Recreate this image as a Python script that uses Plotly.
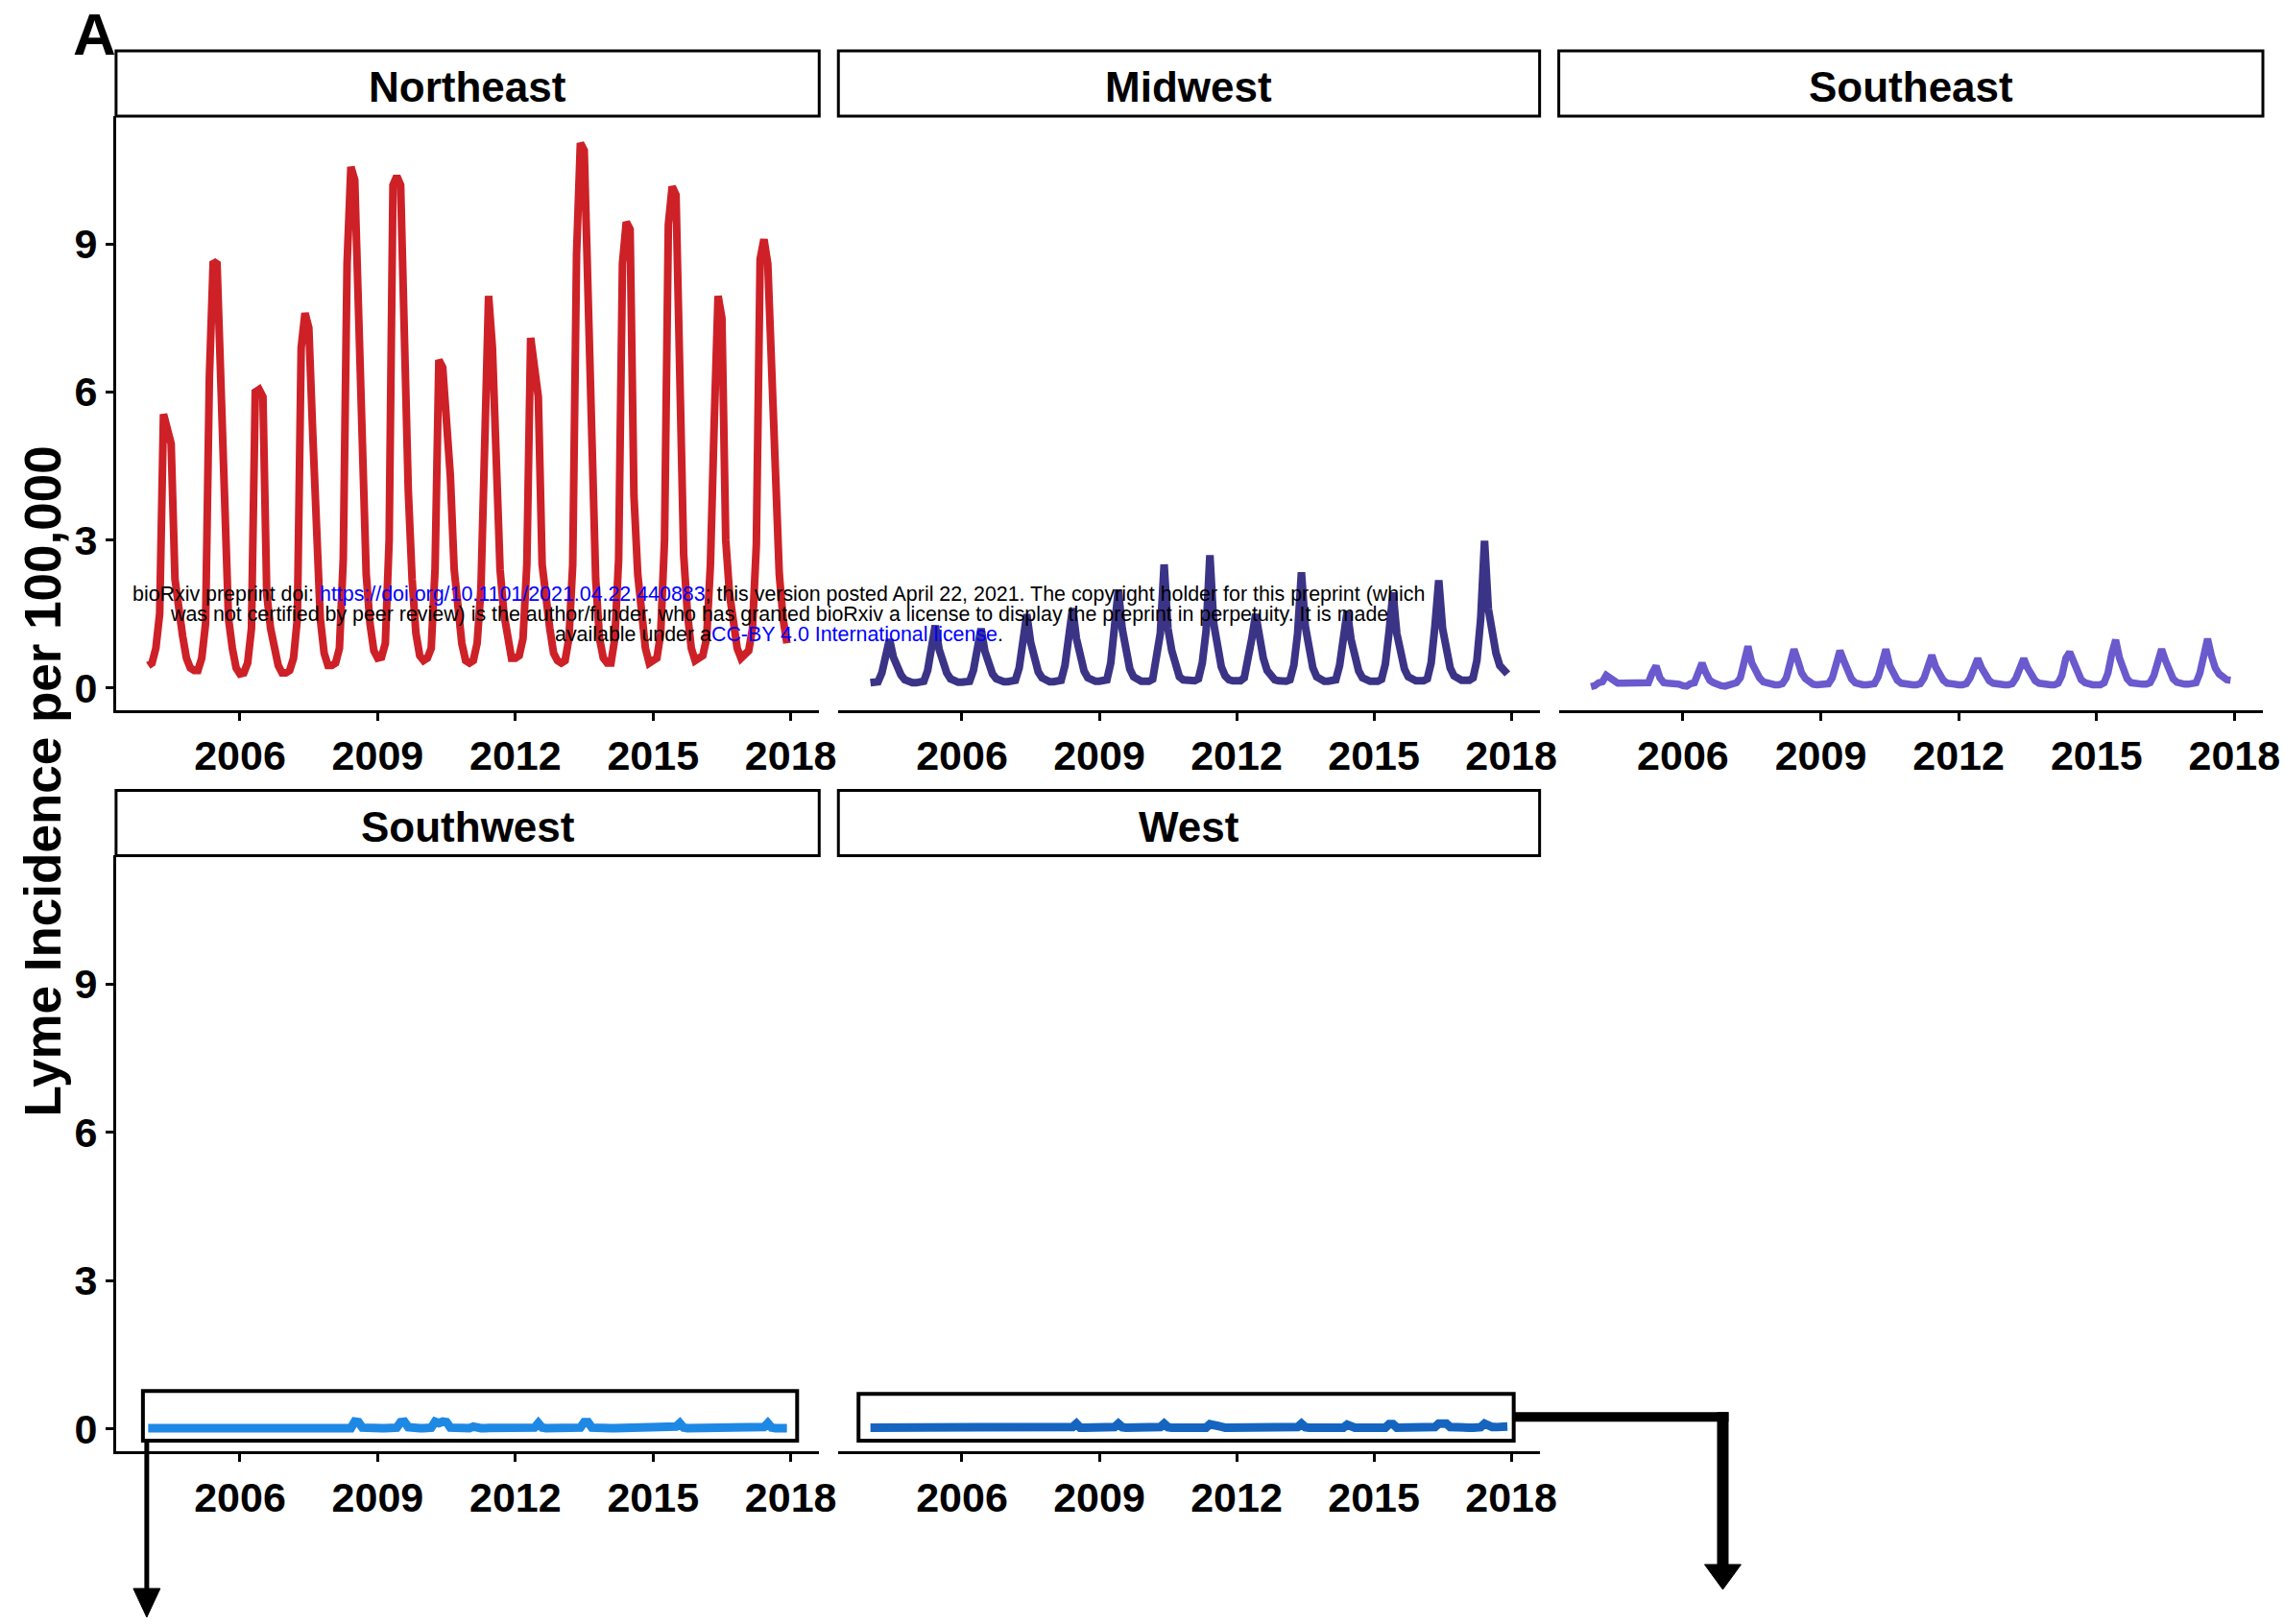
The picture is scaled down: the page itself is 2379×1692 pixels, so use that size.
import plotly.graph_objects as go

W, H = 2379, 1692

# ---------------- data (monthly incidence per 100,000, Jan 2004 - Dec 2017) ----------------
years = list(range(2004, 2018))
month_index = list(range(12))
time = [y + m / 12 for y in years for m in month_index]

tick_years = [2006, 2009, 2012, 2015, 2018]
y_ticks = [0, 3, 6, 9]

regions = ["Northeast", "Midwest", "Southeast", "Southwest", "West"]

northeast = [
    0.45, 0.50, 0.80, 1.50, 5.55, 5.30, 4.95, 2.20, 1.50, 1.05, 0.60, 0.40,
    0.35, 0.35, 0.60, 1.30, 6.30, 8.65, 8.60, 5.90, 3.10, 1.40, 0.80, 0.40,
    0.28, 0.30, 0.50, 1.20, 6.00, 6.05, 5.90, 1.90, 1.20, 0.80, 0.45, 0.30,
    0.30, 0.35, 0.60, 1.40, 6.90, 7.60, 7.30, 5.20, 2.70, 1.40, 0.70, 0.45,
    0.45, 0.50, 0.80, 2.60, 8.60, 10.57, 10.30, 7.30, 4.00, 2.30, 1.30, 0.75,
    0.60, 0.62, 0.90, 3.00, 10.20, 10.38, 10.20, 6.50, 4.00, 2.20, 1.10, 0.65,
    0.55, 0.60, 0.80, 2.40, 6.65, 6.50, 5.50, 4.30, 2.40, 1.50, 0.90, 0.55,
    0.50, 0.55, 0.90, 2.00, 5.00, 7.95, 6.90, 4.70, 2.40, 1.50, 0.90, 0.60,
    0.60, 0.65, 1.00, 2.50, 7.10, 6.50, 5.90, 2.50, 1.70, 1.20, 0.70, 0.55,
    0.50, 0.55, 1.00, 2.50, 8.80, 11.05, 10.90, 7.60, 4.20, 2.20, 1.00, 0.60,
    0.50, 0.50, 1.00, 2.60, 8.60, 9.45, 9.30, 3.90, 2.30, 1.30, 0.80, 0.50,
    0.55, 0.60, 1.10, 3.00, 9.40, 10.17, 10.00, 5.50, 2.70, 1.50, 0.80, 0.55,
    0.60, 0.65, 1.00, 2.50, 5.40, 7.95, 7.50, 3.00, 1.90, 1.20, 0.80, 0.60,
    0.70, 0.75, 1.20, 2.90, 8.70, 9.10, 8.60, 6.50, 3.70, 2.30, 1.40, 0.90,
]

midwest = [
    0.10, 0.10, 0.12, 0.30, 0.60, 0.98, 0.62, 0.42, 0.26, 0.16, 0.12, 0.10,
    0.10, 0.10, 0.13, 0.35, 0.75, 1.26, 0.78, 0.50, 0.30, 0.18, 0.13, 0.11,
    0.11, 0.11, 0.13, 0.35, 0.72, 1.20, 0.74, 0.48, 0.28, 0.18, 0.13, 0.12,
    0.12, 0.12, 0.15, 0.40, 0.90, 1.49, 0.92, 0.56, 0.32, 0.20, 0.14, 0.12,
    0.12, 0.12, 0.15, 0.45, 0.98, 1.61, 1.00, 0.60, 0.34, 0.20, 0.15, 0.13,
    0.13, 0.13, 0.16, 0.50, 1.20, 1.99, 1.20, 0.70, 0.38, 0.22, 0.15, 0.13,
    0.13, 0.13, 0.17, 0.55, 1.10, 2.50, 1.20, 0.75, 0.40, 0.22, 0.16, 0.14,
    0.14, 0.14, 0.18, 0.50, 1.15, 2.69, 1.30, 0.80, 0.42, 0.24, 0.16, 0.14,
    0.14, 0.14, 0.20, 0.55, 1.00, 1.49, 0.95, 0.60, 0.35, 0.22, 0.16, 0.14,
    0.13, 0.13, 0.16, 0.45, 1.10, 2.34, 1.25, 0.75, 0.40, 0.22, 0.15, 0.13,
    0.13, 0.13, 0.16, 0.45, 1.00, 1.55, 0.98, 0.60, 0.34, 0.20, 0.15, 0.13,
    0.13, 0.13, 0.17, 0.48, 1.15, 1.93, 1.10, 0.68, 0.38, 0.22, 0.16, 0.14,
    0.14, 0.14, 0.18, 0.50, 1.25, 2.18, 1.20, 0.72, 0.40, 0.24, 0.17, 0.15,
    0.15, 0.15, 0.20, 0.55, 1.40, 2.98, 1.60, 1.00, 0.70, 0.45, 0.35, 0.28,
]

southeast = [
    0.02, 0.04, 0.10, 0.12, 0.25, 0.20, 0.12, 0.09, 0.09, 0.09, 0.09, 0.09,
    0.09, 0.09, 0.09, 0.10, 0.30, 0.44, 0.20, 0.10, 0.09, 0.09, 0.09, 0.07,
    0.04, 0.03, 0.08, 0.10, 0.30, 0.50, 0.30, 0.15, 0.10, 0.06, 0.04, 0.03,
    0.05, 0.06, 0.10, 0.20, 0.55, 0.84, 0.50, 0.30, 0.20, 0.12, 0.09, 0.07,
    0.06, 0.06, 0.08, 0.20, 0.50, 0.78, 0.55, 0.30, 0.18, 0.10, 0.07, 0.06,
    0.06, 0.06, 0.08, 0.20, 0.50, 0.75, 0.55, 0.32, 0.18, 0.10, 0.07, 0.06,
    0.06, 0.06, 0.08, 0.22, 0.55, 0.78, 0.45, 0.25, 0.15, 0.09, 0.07, 0.06,
    0.06, 0.06, 0.08, 0.20, 0.45, 0.66, 0.42, 0.25, 0.15, 0.09, 0.07, 0.06,
    0.06, 0.06, 0.08, 0.20, 0.42, 0.59, 0.40, 0.24, 0.14, 0.09, 0.07, 0.06,
    0.06, 0.06, 0.08, 0.20, 0.42, 0.59, 0.40, 0.24, 0.14, 0.09, 0.07, 0.06,
    0.06, 0.06, 0.09, 0.25, 0.60, 0.72, 0.55, 0.30, 0.16, 0.10, 0.07, 0.06,
    0.06, 0.06, 0.10, 0.30, 0.70, 0.97, 0.60, 0.35, 0.18, 0.10, 0.08, 0.07,
    0.07, 0.07, 0.10, 0.25, 0.55, 0.78, 0.55, 0.32, 0.18, 0.11, 0.08, 0.07,
    0.07, 0.07, 0.10, 0.30, 0.70, 0.99, 0.65, 0.40, 0.28, 0.22, 0.16, 0.15,
]

southwest = [
    0.02, 0.02, 0.02, 0.02, 0.02, 0.02, 0.02, 0.02, 0.02, 0.02, 0.02, 0.02,
    0.02, 0.02, 0.02, 0.02, 0.02, 0.02, 0.02, 0.02, 0.02, 0.02, 0.02, 0.02,
    0.02, 0.02, 0.02, 0.02, 0.02, 0.02, 0.02, 0.02, 0.02, 0.02, 0.02, 0.02,
    0.02, 0.02, 0.02, 0.02, 0.02, 0.02, 0.02, 0.02, 0.02, 0.02, 0.02, 0.02,
    0.02, 0.02, 0.02, 0.02, 0.02, 0.02, 0.15, 0.14, 0.03, 0.02, 0.02, 0.02,
    0.02, 0.02, 0.02, 0.02, 0.02, 0.03, 0.14, 0.15, 0.04, 0.02, 0.02, 0.02,
    0.02, 0.02, 0.03, 0.15, 0.12, 0.15, 0.14, 0.03, 0.02, 0.02, 0.02, 0.02,
    0.02, 0.05, 0.02, 0.02, 0.02, 0.02, 0.02, 0.02, 0.02, 0.02, 0.02, 0.02,
    0.02, 0.02, 0.02, 0.02, 0.02, 0.03, 0.12, 0.03, 0.02, 0.02, 0.02, 0.02,
    0.02, 0.02, 0.02, 0.02, 0.02, 0.03, 0.14, 0.14, 0.03, 0.02, 0.02, 0.02,
    0.02, 0.02, 0.02, 0.02, 0.02, 0.02, 0.02, 0.02, 0.02, 0.02, 0.02, 0.02,
    0.02, 0.02, 0.02, 0.02, 0.02, 0.03, 0.05, 0.12, 0.03, 0.02, 0.02, 0.02,
    0.02, 0.02, 0.02, 0.05, 0.02, 0.02, 0.02, 0.02, 0.02, 0.02, 0.02, 0.02,
    0.02, 0.02, 0.02, 0.02, 0.02, 0.04, 0.12, 0.03, 0.02, 0.02, 0.02, 0.02,
]

west = [
    0.03, 0.03, 0.03, 0.03, 0.03, 0.03, 0.03, 0.03, 0.03, 0.03, 0.03, 0.03,
    0.03, 0.03, 0.03, 0.03, 0.03, 0.07, 0.03, 0.03, 0.03, 0.03, 0.03, 0.03,
    0.03, 0.03, 0.03, 0.03, 0.03, 0.07, 0.03, 0.03, 0.03, 0.03, 0.03, 0.03,
    0.03, 0.03, 0.03, 0.03, 0.03, 0.07, 0.03, 0.03, 0.03, 0.03, 0.03, 0.03,
    0.03, 0.03, 0.03, 0.03, 0.03, 0.04, 0.11, 0.03, 0.03, 0.03, 0.03, 0.03,
    0.03, 0.03, 0.03, 0.03, 0.04, 0.11, 0.04, 0.03, 0.03, 0.03, 0.03, 0.03,
    0.03, 0.03, 0.03, 0.03, 0.04, 0.11, 0.04, 0.03, 0.03, 0.03, 0.03, 0.03,
    0.03, 0.03, 0.03, 0.03, 0.03, 0.10, 0.08, 0.03, 0.03, 0.03, 0.03, 0.03,
    0.03, 0.03, 0.03, 0.03, 0.03, 0.07, 0.03, 0.03, 0.03, 0.03, 0.03, 0.03,
    0.03, 0.03, 0.03, 0.03, 0.04, 0.11, 0.04, 0.03, 0.03, 0.03, 0.03, 0.03,
    0.03, 0.03, 0.03, 0.03, 0.03, 0.09, 0.04, 0.03, 0.03, 0.03, 0.03, 0.03,
    0.03, 0.03, 0.03, 0.03, 0.10, 0.10, 0.03, 0.03, 0.03, 0.03, 0.03, 0.03,
    0.03, 0.03, 0.03, 0.03, 0.04, 0.11, 0.12, 0.11, 0.04, 0.03, 0.03, 0.03,
    0.03, 0.03, 0.03, 0.03, 0.04, 0.11, 0.05, 0.04, 0.04, 0.04, 0.05, 0.05,
]

series = [northeast, midwest, southeast, southwest, west]
colors = ["#cd2127", "#3b3486", "#6a5acd", "#1e88e5", "#1565c0"]
line_widths = [8, 8, 7.5, 9, 9]

# ---------------- layout geometry (pixels) ----------------
XW = 2363  # effective horizontal width of the rendered plot area


def px(x):
    return x / XW


def py(y):
    return 1 - y / H


col_x = [(121, 854), (874, 1605), (1625, 2359)]
row_y = [(121, 740), (892, 1513)]
strip_h = 68
panel_pos = [(0, 0), (0, 1), (0, 2), (1, 0), (1, 1)]

FONT = "Liberation Sans, Arial, Helvetica, sans-serif"
tick_font = dict(family=FONT, size=43, color="black", weight="bold")

fig = go.Figure()
shapes = []
annotations = []

for i, (name, vals, col, lw) in enumerate(zip(regions, series, colors, line_widths)):
    r, c = panel_pos[i]
    ax = "" if i == 0 else str(i + 1)
    fig.add_trace(go.Scatter(
        x=time, y=vals, mode="lines",
        line=dict(color=col, width=lw, shape="linear"),
        xaxis="x" + ax, yaxis="y" + ax, showlegend=False, hoverinfo="skip",
    ))
    x0, x1 = col_x[c]
    y0, y1 = row_y[r]
    fig.layout["xaxis" + ax] = dict(
        domain=[px(x0), px(x1)], anchor="y" + ax,
        range=[2003.30, 2018.62],
        tickvals=tick_years, ticktext=[str(t) for t in tick_years],
        showline=True, linecolor="black", linewidth=3,
        ticks="outside", ticklen=8, tickwidth=3, tickcolor="black",
        tickfont=tick_font, showgrid=False, zeroline=False,
    )
    first_col = (c == 0)
    fig.layout["yaxis" + ax] = dict(
        domain=[py(y1), py(y0)], anchor="x" + ax,
        range=[-0.45, 11.6],
        tickvals=y_ticks, ticktext=[str(t) for t in y_ticks],
        showline=first_col, linecolor="black", linewidth=3,
        ticks="outside" if first_col else "", ticklen=8, tickwidth=3, tickcolor="black",
        showticklabels=first_col,
        tickfont=tick_font, showgrid=False, zeroline=False,
    )
    # strip
    shapes.append(dict(type="rect", xref="paper", yref="paper",
                       x0=px(x0), x1=px(x1), y0=py(y0), y1=py(y0 - strip_h),
                       line=dict(color="black", width=3), fillcolor="white", layer="above"))
    annotations.append(dict(text=name, xref="paper", yref="paper",
                            x=px((x0 + x1) / 2), y=py(y0 - strip_h / 2 + 4),
                            xanchor="center", yanchor="middle", showarrow=False,
                            font=dict(family=FONT, size=44, color="black", weight="bold")))

# highlight boxes around the flat series
shapes.append(dict(type="rect", xref="paper", yref="paper",
                   x0=px(149), x1=px(831), y0=py(1502), y1=py(1450),
                   line=dict(color="black", width=4), fillcolor="rgba(0,0,0,0)", layer="above"))
shapes.append(dict(type="rect", xref="paper", yref="paper",
                   x0=px(895), x1=px(1578), y0=py(1502), y1=py(1453),
                   line=dict(color="black", width=4), fillcolor="rgba(0,0,0,0)", layer="above"))

# arrow from Southwest box
shapes.append(dict(type="line", xref="paper", yref="paper",
                   x0=px(153), x1=px(153), y0=py(1502), y1=py(1662),
                   line=dict(color="black", width=5), layer="above"))
shapes.append(dict(type="path", xref="paper", yref="paper",
                   path=f"M {px(139)} {py(1656)} L {px(167)} {py(1656)} L {px(153)} {py(1686)} Z",
                   line=dict(color="black", width=1), fillcolor="black", layer="above"))

# connector and arrow from West box
shapes.append(dict(type="line", xref="paper", yref="paper",
                   x0=px(1578), x1=px(1802), y0=py(1477), y1=py(1477),
                   line=dict(color="black", width=10), layer="above"))
shapes.append(dict(type="line", xref="paper", yref="paper",
                   x0=px(1796), x1=px(1796), y0=py(1472), y1=py(1636),
                   line=dict(color="black", width=12), layer="above"))
shapes.append(dict(type="path", xref="paper", yref="paper",
                   path=f"M {px(1777)} {py(1631)} L {px(1815)} {py(1631)} L {px(1796)} {py(1657)} Z",
                   line=dict(color="black", width=1), fillcolor="black", layer="above"))

# y-axis title
annotations.append(dict(text="Lyme Incidence per 100,000", xref="paper", yref="paper",
                        x=px(45), y=py(814), textangle=-90, showarrow=False,
                        xanchor="center", yanchor="middle",
                        font=dict(family=FONT, size=53, color="black", weight="bold")))
# panel letter
annotations.append(dict(text="A", xref="paper", yref="paper",
                        x=px(75), y=1.0, showarrow=False,
                        xanchor="left", yanchor="top", borderpad=0,
                        font=dict(family=FONT, size=62, color="black", weight="bold")))

# bioRxiv watermark
wm_lines = [
    'bioRxiv preprint doi: <span style="color:#0000ff">https://doi.org/10.1101/2021.04.22.440883</span>; '
    'this version posted April 22, 2021. The copyright holder for this preprint (which',
    'was not certified by peer review) is the author/funder, who has granted bioRxiv a license '
    'to display the preprint in perpetuity. It is made',
    'available under a<span style="color:#0000ff">CC-BY 4.0 International license</span>.',
]
for k, t in enumerate(wm_lines):
    annotations.append(dict(text=t, xref="paper", yref="paper",
                            x=px(812), y=py(619 + 21 * k), showarrow=False,
                            xanchor="center", yanchor="middle",
                            font=dict(family=FONT, size=21.4, color="black")))

fig.update_layout(
    width=W, height=H,
    margin=dict(l=0, r=0, t=0, b=0),
    paper_bgcolor="white", plot_bgcolor="white",
    showlegend=False,
    shapes=shapes, annotations=annotations,
)

fig.write_html("out.html", config={"displayModeBar": False})
